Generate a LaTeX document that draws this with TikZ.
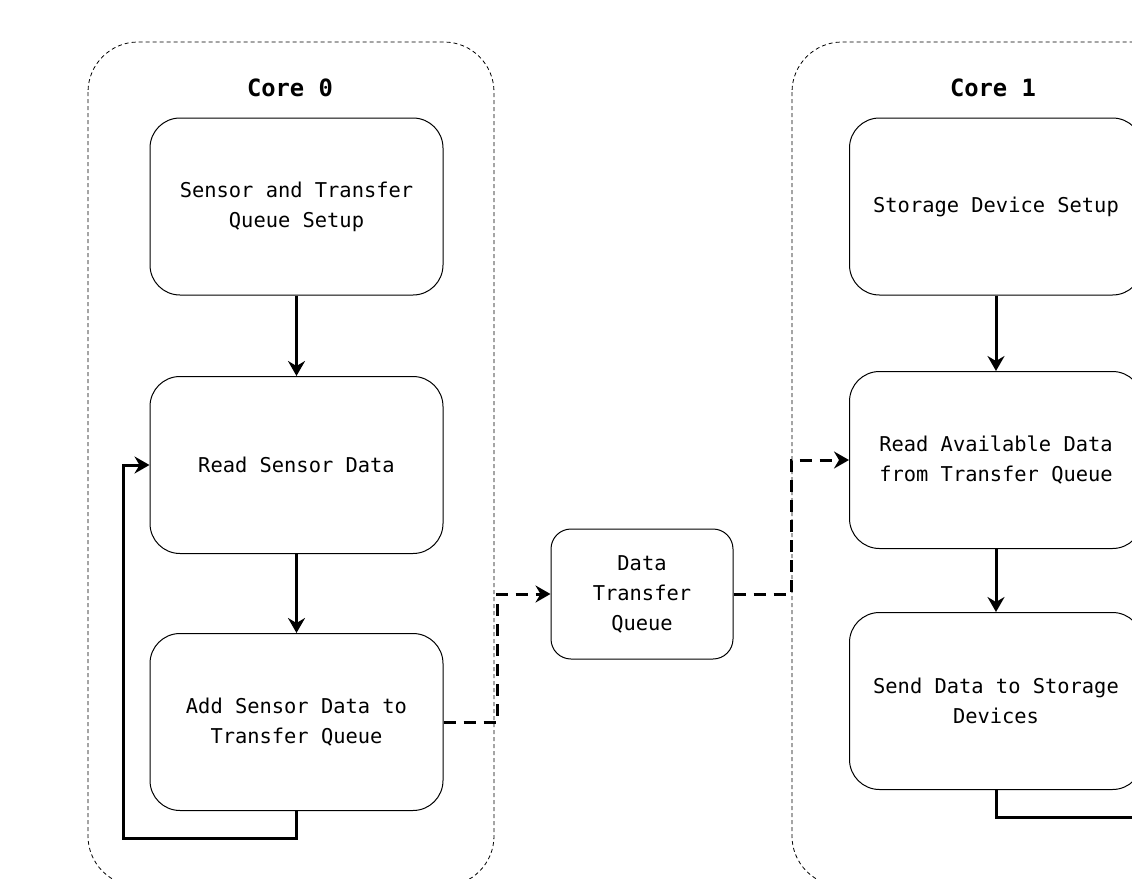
\documentclass[tikz,border=0pt]{standalone}
\usepackage{fontspec}
\setmonofont{DejaVu Sans Mono}
\usetikzlibrary{positioning,arrows.meta}

\tikzset{
  task/.style={draw, rounded corners=15pt, minimum width=146.5pt, minimum height=88.5pt,
    align=center, line width=0.5pt, font=\ttfamily\fontsize{10.2}{15}\selectfont},
  corebox/.style={draw, rounded corners=25pt, line width=0.4pt, dash pattern=on 2pt off 1.5pt},
  coretitle/.style={font=\ttfamily\bfseries\fontsize{11.9}{14}\selectfont},
  flow/.style={-{Stealth[length=7.5pt,width=8.5pt,inset=2.5pt]}, line width=1.5pt},
  pass/.style={-{Stealth[length=7.5pt,width=8.5pt,inset=2.5pt]}, line width=1.5pt,
    dash pattern=on 6pt off 4pt},
}

\begin{document}
\begin{tikzpicture}[x=0.5pt,y=-0.5pt]

\useasboundingbox (0,0) rectangle (1132,879);
\clip (0,0) rectangle (1132,879);

% the two cores
\draw[corebox] (88,42) rectangle (494,886);
\draw[corebox] (792,42) rectangle (1198,886);
\node[coretitle] (c0) at (290,88) {Core 0};
\node[coretitle] (c1) at (993,88) {Core 1};

% core 0 tasks
\node[task] (s0) at (296.5,206.5) {Sensor and Transfer\\Queue Setup};
\node[task] (r0) at (296.5,465) {Read Sensor Data};
\node[task] (a0) at (296.5,722) {Add Sensor Data to\\Transfer Queue};

% core 1 tasks
\node[task] (s1) at (996,206.5) {Storage Device Setup};
\node[task] (rd1) at (996,460) {Read Available Data\\from Transfer Queue};
\node[task] (w1) at (996,701) {Send Data to Storage\\Devices};

% queue between the cores
\node[task, minimum width=91pt, minimum height=65pt, rounded corners=10pt] (q) at (642,594) {Data\\Transfer\\Queue};

\draw[flow] (s0) -- (r0);
\draw[flow] (r0) -- (a0);
\coordinate (l0) at (123,838);
\draw[flow] (a0.south) |- (l0) |- (r0.west);

\draw[flow] (s1) -- (rd1);
\draw[flow] (rd1) -- (w1);
\coordinate (l1) at (1180,817);
\draw[flow] (w1.south) |- (l1) |- (rd1.east);

\coordinate (j0) at (497,594);
\draw[pass] (a0.east) -| (j0) -- (q.west);
\coordinate (j1) at (791,460);
\draw[pass] (q.east) -| (j1) -- (rd1.west);

\end{tikzpicture}
\end{document}
